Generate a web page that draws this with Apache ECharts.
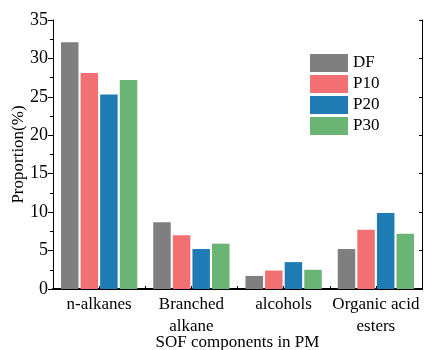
<!DOCTYPE html>
<html>
<head>
<meta charset="utf-8">
<script src="https://cdn.jsdelivr.net/npm/echarts@6/dist/echarts.min.js"></script>
<style>html,body{margin:0;padding:0;background:#fff}#c{width:427px;height:350px}</style>
</head>
<body>
<div id="c"></div>
<script>
const categories = ['n-alkanes', 'Branched\nalkane', 'alcohols', 'Organic acid\nesters'];
const seriesNames = ['DF', 'P10', 'P20', 'P30'];
const DF  = [32.1, 8.7, 1.7, 5.2];
const P10 = [28.1, 7.0, 2.4, 7.7];
const P20 = [25.3, 5.2, 3.5, 9.9];
const P30 = [27.2, 5.9, 2.5, 7.2];
const yTicks = [0, 5, 10, 15, 20, 25, 30, 35];
const colors = ['#7f7f7f', '#f27072', '#1f7bb4', '#6bb574'];

const font = 'Liberation Serif, Times New Roman, serif';
const chart = echarts.init(document.getElementById('c'), null, {renderer: 'canvas'});
const values = [DF, P10, P20, P30];
chart.setOption({
  animation: false,
  backgroundColor: '#fff',
  textStyle: {fontFamily: font},
  grid: {left: 53, right: 5, top: 20, bottom: 61, containLabel: false, outerBoundsMode: 'none'},
  legend: {
    orient: 'vertical', left: 310, top: 54, padding: 0,
    itemWidth: 38, itemHeight: 18, itemGap: 3, icon: 'rect',
    textStyle: {fontFamily: font, fontSize: 17, color: '#000'},
    data: seriesNames
  },
  xAxis: [{
    type: 'category', data: categories, position: 'bottom',
    axisLine: {lineStyle: {color: '#000', width: 2}},
    axisTick: {show: false},
    axisLabel: {interval: 0, fontFamily: font, fontSize: 17, color: '#000', lineHeight: 22, margin: 5},
    name: 'SOF components in PM', nameLocation: 'middle', nameGap: 45, nameMoveOverlap: false,
    nameTextStyle: {fontFamily: font, fontSize: 17, color: '#000'}
  }, {
    type: 'value', position: 'top', min: 0, max: 8, interval: 1,
    axisLine: {show: true, lineStyle: {color: '#000', width: 1}},
    axisTick: {show: true, inside: false, length: 3, lineStyle: {color: '#000'}},
    axisLabel: {show: false}, splitLine: {show: false}
  }],
  yAxis: [{
    type: 'value', min: 0, max: 35, interval: 5, position: 'left',
    axisLine: {show: true, lineStyle: {color: '#000', width: 1}},
    axisTick: {show: true, inside: false, length: 5, lineStyle: {color: '#000'}},
    minorTick: {show: true, splitNumber: 2, length: 3, lineStyle: {color: '#000'}},
    axisLabel: {fontFamily: font, fontSize: 18, color: '#000', margin: 5,
      formatter: v => yTicks.includes(v) ? String(v) : ''},
    splitLine: {show: false},
    name: 'Proportion(%)', nameLocation: 'middle', nameGap: 26, nameMoveOverlap: false,
    nameTextStyle: {fontFamily: font, fontSize: 17, color: '#000'}
  }, {
    type: 'value', min: 0, max: 35, interval: 5, position: 'right',
    axisLine: {show: true, lineStyle: {color: '#000', width: 1}},
    axisTick: {show: true, inside: true, length: 3, lineStyle: {color: '#000'}},
    axisLabel: {show: false}, splitLine: {show: false}
  }],
  series: seriesNames.map((n, i) => ({
    name: n, type: 'bar', data: values[i],
    xAxisIndex: 0, yAxisIndex: 0,
    barWidth: 17.5, barGap: '12%',
    itemStyle: {color: colors[i]}
  }))
});
</script>
</body>
</html>
